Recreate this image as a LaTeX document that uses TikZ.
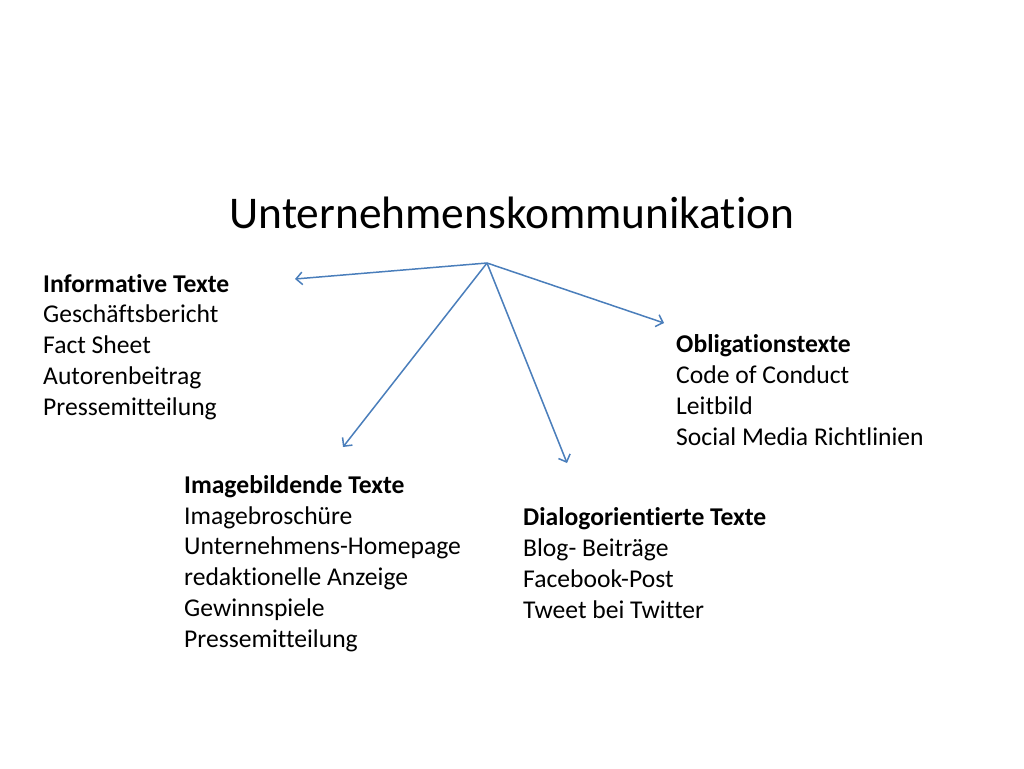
\documentclass[tikz,border=0pt]{standalone}
\usepackage{fontspec}
\setmainfont{Carlito}[Ligatures={NoCommon}]
\usetikzlibrary{arrows.meta}
\definecolor{linieblau}{HTML}{4A7EBB}
\tikzset{%
	>={Straight Barb[length=2.2mm,width=4.4mm]},
	% Styles for the text blocks
	titel/.style = {font=\fontsize{45.4}{54}\selectfont},
	block/.style = {anchor=base west, align=left, inner sep=0pt,
		font=\fontsize{25.6}{30.7}\selectfont},
	pfeil/.style = {->, draw=linieblau, line width=1.5pt}
}
\begin{document}
\begin{tikzpicture}[x=1pt, y=-1pt]
	\useasboundingbox (0,0) rectangle (1024,768);
	% Title and blocks (anchored at the baseline of the last line)
	\node (titel)  [titel] at (512,213) {Unternehmenskommunikation};
	\node (info)   [block] at (43,415)  {\textbf{Informative Texte}\\Geschäftsbericht\\Fact Sheet\\Autorenbeitrag\\Pressemitteilung};
	\node (oblig)  [block] at (676,445) {\textbf{Obligationstexte}\\Code of Conduct\\Leitbild\\Social Media Richtlinien};
	\node (image)  [block] at (184,647) {\textbf{Imagebildende Texte}\\Imagebroschüre\\Unternehmens-Homepage\\redaktionelle Anzeige\\Gewinnspiele\\Pressemitteilung};
	\node (dialog) [block] at (523,618) {\textbf{Dialogorientierte Texte}\\Blog- Beiträge\\Facebook-Post\\Tweet bei Twitter};
	% Arrow ends
	\coordinate (hub)    at (487,263);
	\coordinate (zinfo)  at (295,279);
	\coordinate (zoblig) at (664,323);
	\coordinate (zimage) at (343,447);
	\coordinate (zdial)  at (567,463);
	
	\draw[pfeil] (hub) -- (zinfo);
	\draw[pfeil] (hub) -- (zoblig);
	\draw[pfeil] (hub) -- (zimage);
	\draw[pfeil] (hub) -- (zdial);
\end{tikzpicture}
\end{document}
